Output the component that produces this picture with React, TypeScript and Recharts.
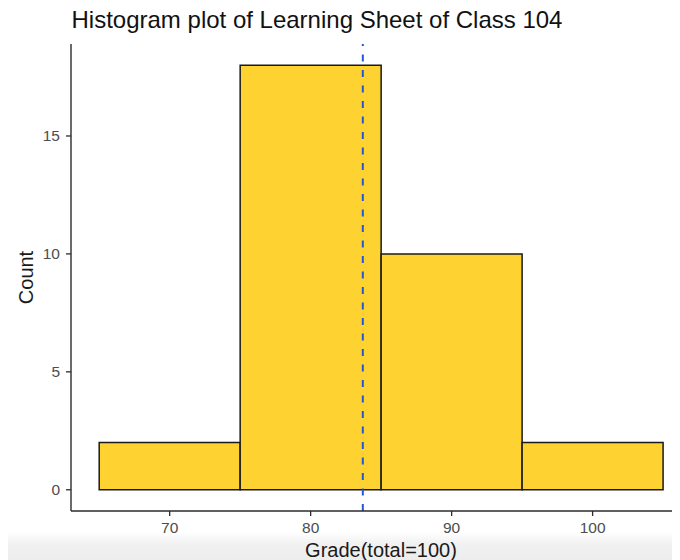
import React from "react";
import {
  ComposedChart,
  XAxis,
  YAxis,
  ReferenceArea,
  ReferenceLine,
  Label,
} from "recharts";

const binStart = [65, 75, 85, 95];
const binEnd = [75, 85, 95, 105];
const counts = [2, 18, 10, 2];
const xTicks = [70, 80, 90, 100];
const yTicks = [0, 5, 10, 15];
const meanGrade = 83.7;
const titleText = "Histogram plot of Learning Sheet of Class 104";
const xTitle = "Grade(total=100)";
const yTitle = "Count";

const data = binStart.map((s, i) => ({ start: s, end: binEnd[i], count: counts[i] }));

const FONT = "'Liberation Sans', Arial, Helvetica, sans-serif";
const AXIS = "#2b2b2b";

export default function App() {
  return (
    <div
      style={{
        position: "relative",
        width: 672,
        height: 552,
        fontFamily: FONT,
        background:
          "linear-gradient(to bottom, #ffffff 0px, #ffffff 524px, #f1f1f1 536px, #ededed 552px)",
      }}
    >
      <div
        style={{
          position: "absolute",
          left: 63.5,
          top: 0,
          fontSize: 24,
          lineHeight: "24px",
          color: "#111",
          whiteSpace: "nowrap",
        }}
      >
        {titleText}
      </div>
      <ComposedChart
        width={672}
        height={552}
        data={data}
        margin={{ top: 36, right: 0, left: 23, bottom: 0 }}
        style={{ fontFamily: FONT }}
      >
        <XAxis
          type="number"
          dataKey="start"
          domain={[63, 106.2]}
          allowDataOverflow
          ticks={xTicks}
          interval={0}
          height={49}
          tickSize={5}
          tickMargin={6}
          tick={{ fill: "#4d4d4d", fontSize: 15.5 }}
          tickLine={{ stroke: AXIS, strokeWidth: 1.3 }}
          axisLine={{ stroke: AXIS, strokeWidth: 1.4 }}
        >
          <Label
            value={xTitle}
            position="insideBottom"
            offset={3}
            dx={5.5}
            style={{ fontSize: 20, fill: "#1a1a1a" }}
          />
        </XAxis>
        <YAxis
          type="number"
          domain={[-0.9, 18.9]}
          allowDataOverflow
          ticks={yTicks}
          interval={0}
          width={40}
          tickSize={5}
          tickMargin={6}
          tick={{ fill: "#4d4d4d", fontSize: 15.5 }}
          tickLine={{ stroke: AXIS, strokeWidth: 1.3 }}
          axisLine={{ stroke: AXIS, strokeWidth: 1.4 }}
        >
          <Label
            value={yTitle}
            angle={-90}
            position="insideLeft"
            offset={-5}
            style={{ fontSize: 20, fill: "#1a1a1a", textAnchor: "middle" }}
          />
        </YAxis>
        {data.map((d, i) => (
          <ReferenceArea
            key={i}
            x1={d.start}
            x2={d.end}
            y1={0}
            y2={d.count}
            fill="#fdd231"
            fillOpacity={1}
            stroke="#1a1a1a"
            strokeWidth={1.5}
            ifOverflow="visible"
          />
        ))}
        <ReferenceLine
          x={meanGrade}
          stroke="#2457d8"
          strokeWidth={2}
          strokeDasharray="7 8.5"
          ifOverflow="visible"
        />
      </ComposedChart>
    </div>
  );
}
